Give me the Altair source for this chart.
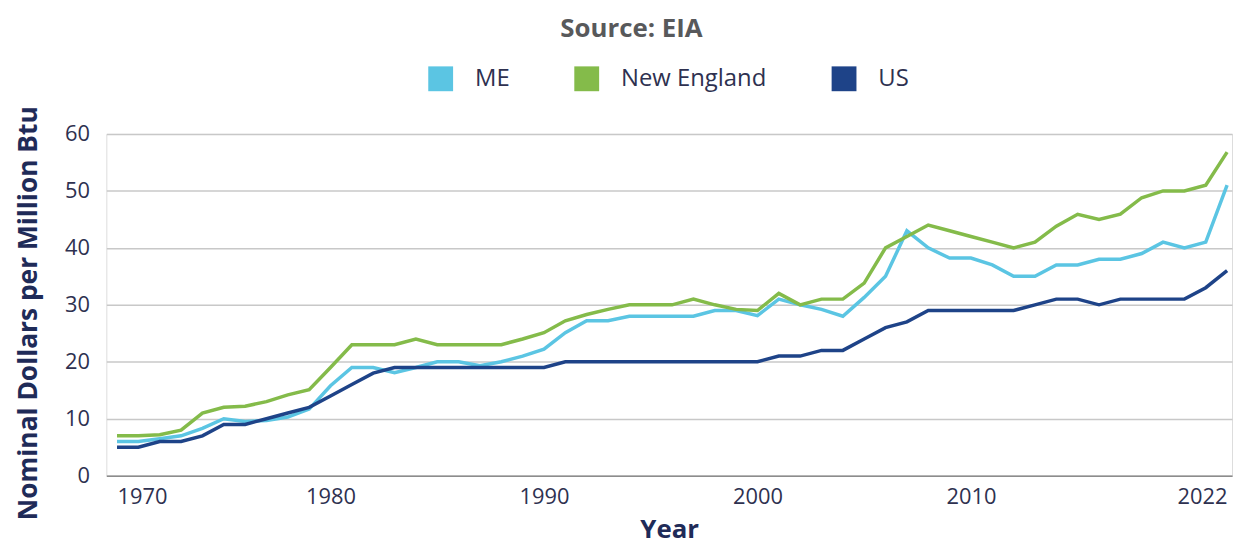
import altair as alt
import pandas as pd

years = list(range(1970, 2023))

me = [6, 6, 6.5, 7, 8.3, 10, 9.5, 9.7, 10.3, 11.7,
      15.8, 19, 19, 18.1, 19, 20, 20, 19.3, 20, 21,
      22.2, 25.1, 27.2, 27.2, 28, 28, 28, 28, 29, 29,
      28.1, 31, 30, 29.2, 28, 31.3, 35, 43, 40, 38.2,
      38.2, 37, 35, 35, 37, 37, 38, 38, 39, 41,
      40, 41, 51]

new_england = [7, 7, 7.2, 8, 11, 12, 12.2, 13, 14.2, 15.1,
               19, 23, 23, 23, 24, 23, 23, 23, 23, 24,
               25.1, 27.2, 28.3, 29.2, 30, 30, 30, 31, 30, 29.2,
               29, 32, 30, 31, 31, 33.8, 40, 42, 44, 43,
               42, 41, 40, 41, 43.8, 45.9, 45, 45.9, 48.8, 50,
               50, 51, 56.8]

us = [5, 5, 6, 6, 7, 9, 9, 10, 11, 12,
      14, 16, 18, 19, 19, 19, 19, 19, 19, 19,
      19, 20, 20, 20, 20, 20, 20, 20, 20, 20,
      20, 21, 21, 22, 22, 24, 26, 27, 29, 29,
      29, 29, 29, 30, 31, 31, 30, 31, 31, 31,
      31, 33, 36]

series_names = ["ME", "New England", "US"]
series_colors = ["#5bc5e3", "#84bb4a", "#1e4388"]
x_tick_values = [1970, 1980, 1990, 2000, 2010, 2022]
y_tick_values = [0, 10, 20, 30, 40, 50, 60]

rows = []
for name, vals in zip(series_names, [me, new_england, us]):
    for yr, v in zip(years, vals):
        rows.append({"Year": yr, "Price": v, "Series": name})
df = pd.DataFrame(rows)

FONT = "Open Sans"
LABEL_COLOR = "#2e3150"
TITLE_COLOR = "#1f2b58"

chart = alt.Chart(df).mark_line(strokeWidth=3.5).encode(
    x=alt.X(
        "Year:Q",
        scale=alt.Scale(domain=[1969.5, 2022.23], nice=False, zero=False),
        axis=alt.Axis(
            values=x_tick_values, format="d", title="Year", grid=False, ticks=False,
            domain=True, domainColor="#8c8c8c", domainWidth=1.5,
            labelFlush=12, labelPadding=11, labelFont=FONT, labelFontSize=22,
            labelColor=LABEL_COLOR, titleFont=FONT, titleFontSize=26,
            titleFontWeight="bold", titleColor=TITLE_COLOR, titlePadding=9,
        ),
    ),
    y=alt.Y(
        "Price:Q",
        scale=alt.Scale(domain=[0, 60], nice=False),
        axis=alt.Axis(
            values=y_tick_values, title="Nominal Dollars per Million Btu",
            grid=True, gridColor="#c8c8c8", gridWidth=1.5, ticks=False, domain=False,
            labelPadding=17, labelFont=FONT, labelFontSize=22, labelColor=LABEL_COLOR,
            titleFont=FONT, titleFontSize=26.5, titleFontWeight="bold",
            titleColor=TITLE_COLOR, titlePadding=22, titleY=180,
        ),
    ),
    color=alt.Color(
        "Series:N",
        scale=alt.Scale(domain=series_names, range=series_colors),
        legend=alt.Legend(
            title=None, orient="none", legendX=324, legendY=-68,
            direction="horizontal", symbolType="square", symbolSize=9,
            symbolStrokeWidth=22, labelFont=FONT, labelFontSize=24,
            labelColor=LABEL_COLOR, labelOffset=22, columnPadding=32, padding=0,
        ),
    ),
).properties(
    width=1133,
    height=344,
    autosize=alt.AutoSizeParams(type="none"),
    padding={"left": 99, "top": 125, "right": 1, "bottom": 69},
    title=alt.TitleParams(
        "Source: EIA", font=FONT, fontSize=26, fontWeight="bold", color="#58595b",
        anchor="middle", dx=-38, offset=25,
    ),
).configure_view(stroke=None).configure(background="white")

chart.save("out.html", embed_options={"renderer": "svg", "actions": False})
